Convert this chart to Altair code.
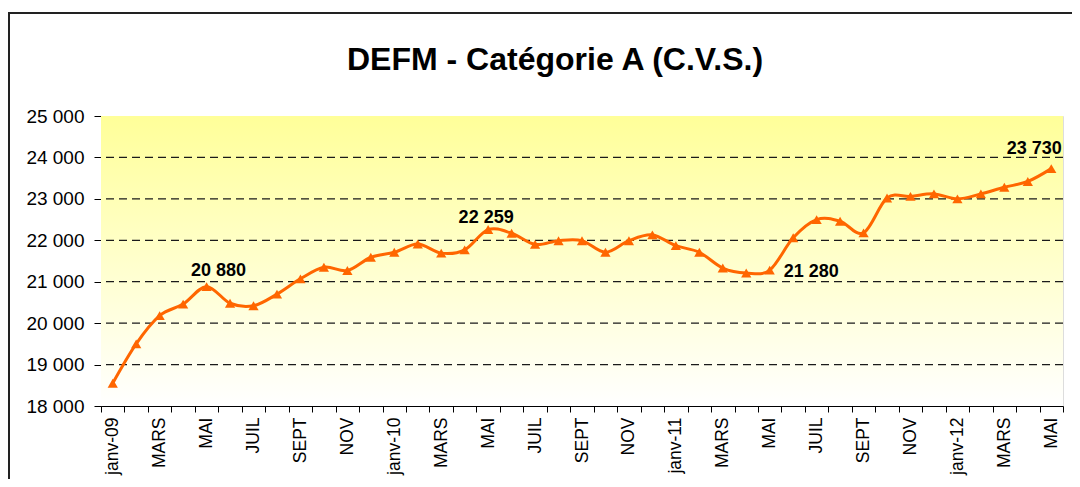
import json
import altair as alt
import pandas as pd

# ---- data ----
months = list(range(41))  # janv-09 ... mai-12
values = [18550, 19500, 20180, 20460, 20880, 20480, 20420, 20700, 21070, 21350, 21270, 21590,
          21710, 21910, 21690, 21770, 22259, 22170, 21900, 21990, 21990, 21710, 21990, 22130,
          21870, 21710, 21330, 21210, 21280, 22060, 22500, 22460, 22180, 23020, 23060, 23120,
          23000, 23120, 23280, 23420, 23730]
tick_labels = ["janv-09", "MARS", "MAI", "JUIL", "SEPT", "NOV",
               "janv-10", "MARS", "MAI", "JUIL", "SEPT", "NOV",
               "janv-11", "MARS", "MAI", "JUIL", "SEPT", "NOV",
               "janv-12", "MARS", "MAI"]
y_ticks = [18000, 19000, 20000, 21000, 22000, 23000, 24000, 25000]
grid_values = [19000, 20000, 21000, 22000, 23000, 24000]
label_months = [4, 16, 28, 40]
label_texts = ["20 880", "22 259", "21 280", "23 730"]
title_text = "DEFM - Catégorie A (C.V.S.)"

FONT = "Liberation Sans"
W, H = 962, 290
ORANGE = "#FF6600"

all_labels = [tick_labels[i // 2] if i % 2 == 0 else "" for i in months]
label_expr = json.dumps(all_labels) + "[datum.value]"

df = pd.DataFrame({"mois": months, "DEFM": values})
grid_df = pd.DataFrame({"DEFM": grid_values})
lab_df = pd.DataFrame({"mois": label_months,
                       "DEFM": [values[m] for m in label_months],
                       "txt": label_texts})
one = pd.DataFrame({"a": [0]})

yscale = alt.Scale(domain=[18000, 25000], nice=False, zero=False)
xscale = alt.Scale(type="band", paddingInner=0, paddingOuter=0)

x_enc = alt.X("mois:O", scale=xscale, bandPosition=0.5, title=None,
              axis=alt.Axis(labelExpr=label_expr, labelAngle=270, labelOverlap=False,
                            tickBand="extent", tickSize=6, labelPadding=5,
                            labelFontSize=17.5, labelFont=FONT, labelColor="#000",
                            domainColor="#000", tickColor="#000", grid=False))
y_enc = alt.Y("DEFM:Q", scale=yscale, title=None,
              axis=alt.Axis(values=y_ticks, grid=False, tickSize=7, labelPadding=10,
                            labelExpr="replace(format(datum.value, ','), ',', ' ')",
                            labelFontSize=19, labelFont=FONT, labelColor="#000",
                            domainColor="#000", tickColor="#000"))

gradient = alt.LinearGradient(
    gradient="linear",
    stops=[alt.GradientStop(offset=0, color="#FFFF99"),
           alt.GradientStop(offset=1, color="#FFFFFF")],
    x1=0, x2=0, y1=0, y2=1)

bg = alt.Chart(one).mark_rect(color=gradient).encode(
    x=alt.value(0), x2=alt.value(W), y=alt.value(0), y2=alt.value(H))

grid = alt.Chart(grid_df).mark_rule(color="#1A1A1A", strokeDash=[8, 5], strokeWidth=1.2).encode(
    y=alt.Y("DEFM:Q", scale=yscale, title=None))

base = alt.Chart(df).encode(x=x_enc, y=y_enc)
line = base.mark_line(color=ORANGE, strokeWidth=3, interpolate="cardinal")
pts = base.mark_point(shape="triangle-up", filled=True, size=105, color=ORANGE, opacity=1)


def lab(month, dx, dy, align="center", baseline="alphabetic"):
    return alt.Chart(lab_df).transform_filter(alt.datum.mois == month).mark_text(
        font=FONT, fontSize=18, fontWeight="bold", color="#000",
        align=align, baseline=baseline, dx=dx, dy=dy).encode(
        x=alt.X("mois:O", scale=xscale, bandPosition=0.5),
        y=alt.Y("DEFM:Q", scale=yscale),
        text="txt:N")


labels = [lab(4, 12, -11), lab(16, -2, -7), lab(28, 14, 2, align="left", baseline="middle"),
          lab(40, -17, -15)]

title = alt.Chart(one).mark_text(text=title_text, font=FONT, fontSize=32, fontWeight="bold",
                                 color="#000", align="center", baseline="alphabetic").encode(
    x=alt.value(454), y=alt.value(-46))

frame_left = alt.Chart(one).mark_rule(color="#222222", strokeWidth=2).encode(
    x=alt.value(-92), y=alt.value(-104), y2=alt.value(H + 80))
frame_top = alt.Chart(one).mark_rule(color="#222222", strokeWidth=2).encode(
    x=alt.value(-93), x2=alt.value(W + 12), y=alt.value(-103))

chart = alt.layer(bg, grid, line, pts, *labels, title, frame_left, frame_top).properties(
    width=W, height=H,
    autosize=alt.AutoSizeParams(type="none"),
    padding={"left": 93, "top": 108, "right": 9, "bottom": 73},
).configure_view(stroke="#8C8C8C", strokeWidth=1).configure(background="#FFFFFF")

chart.save("out.html", embed_options={"renderer": "svg", "actions": False})
